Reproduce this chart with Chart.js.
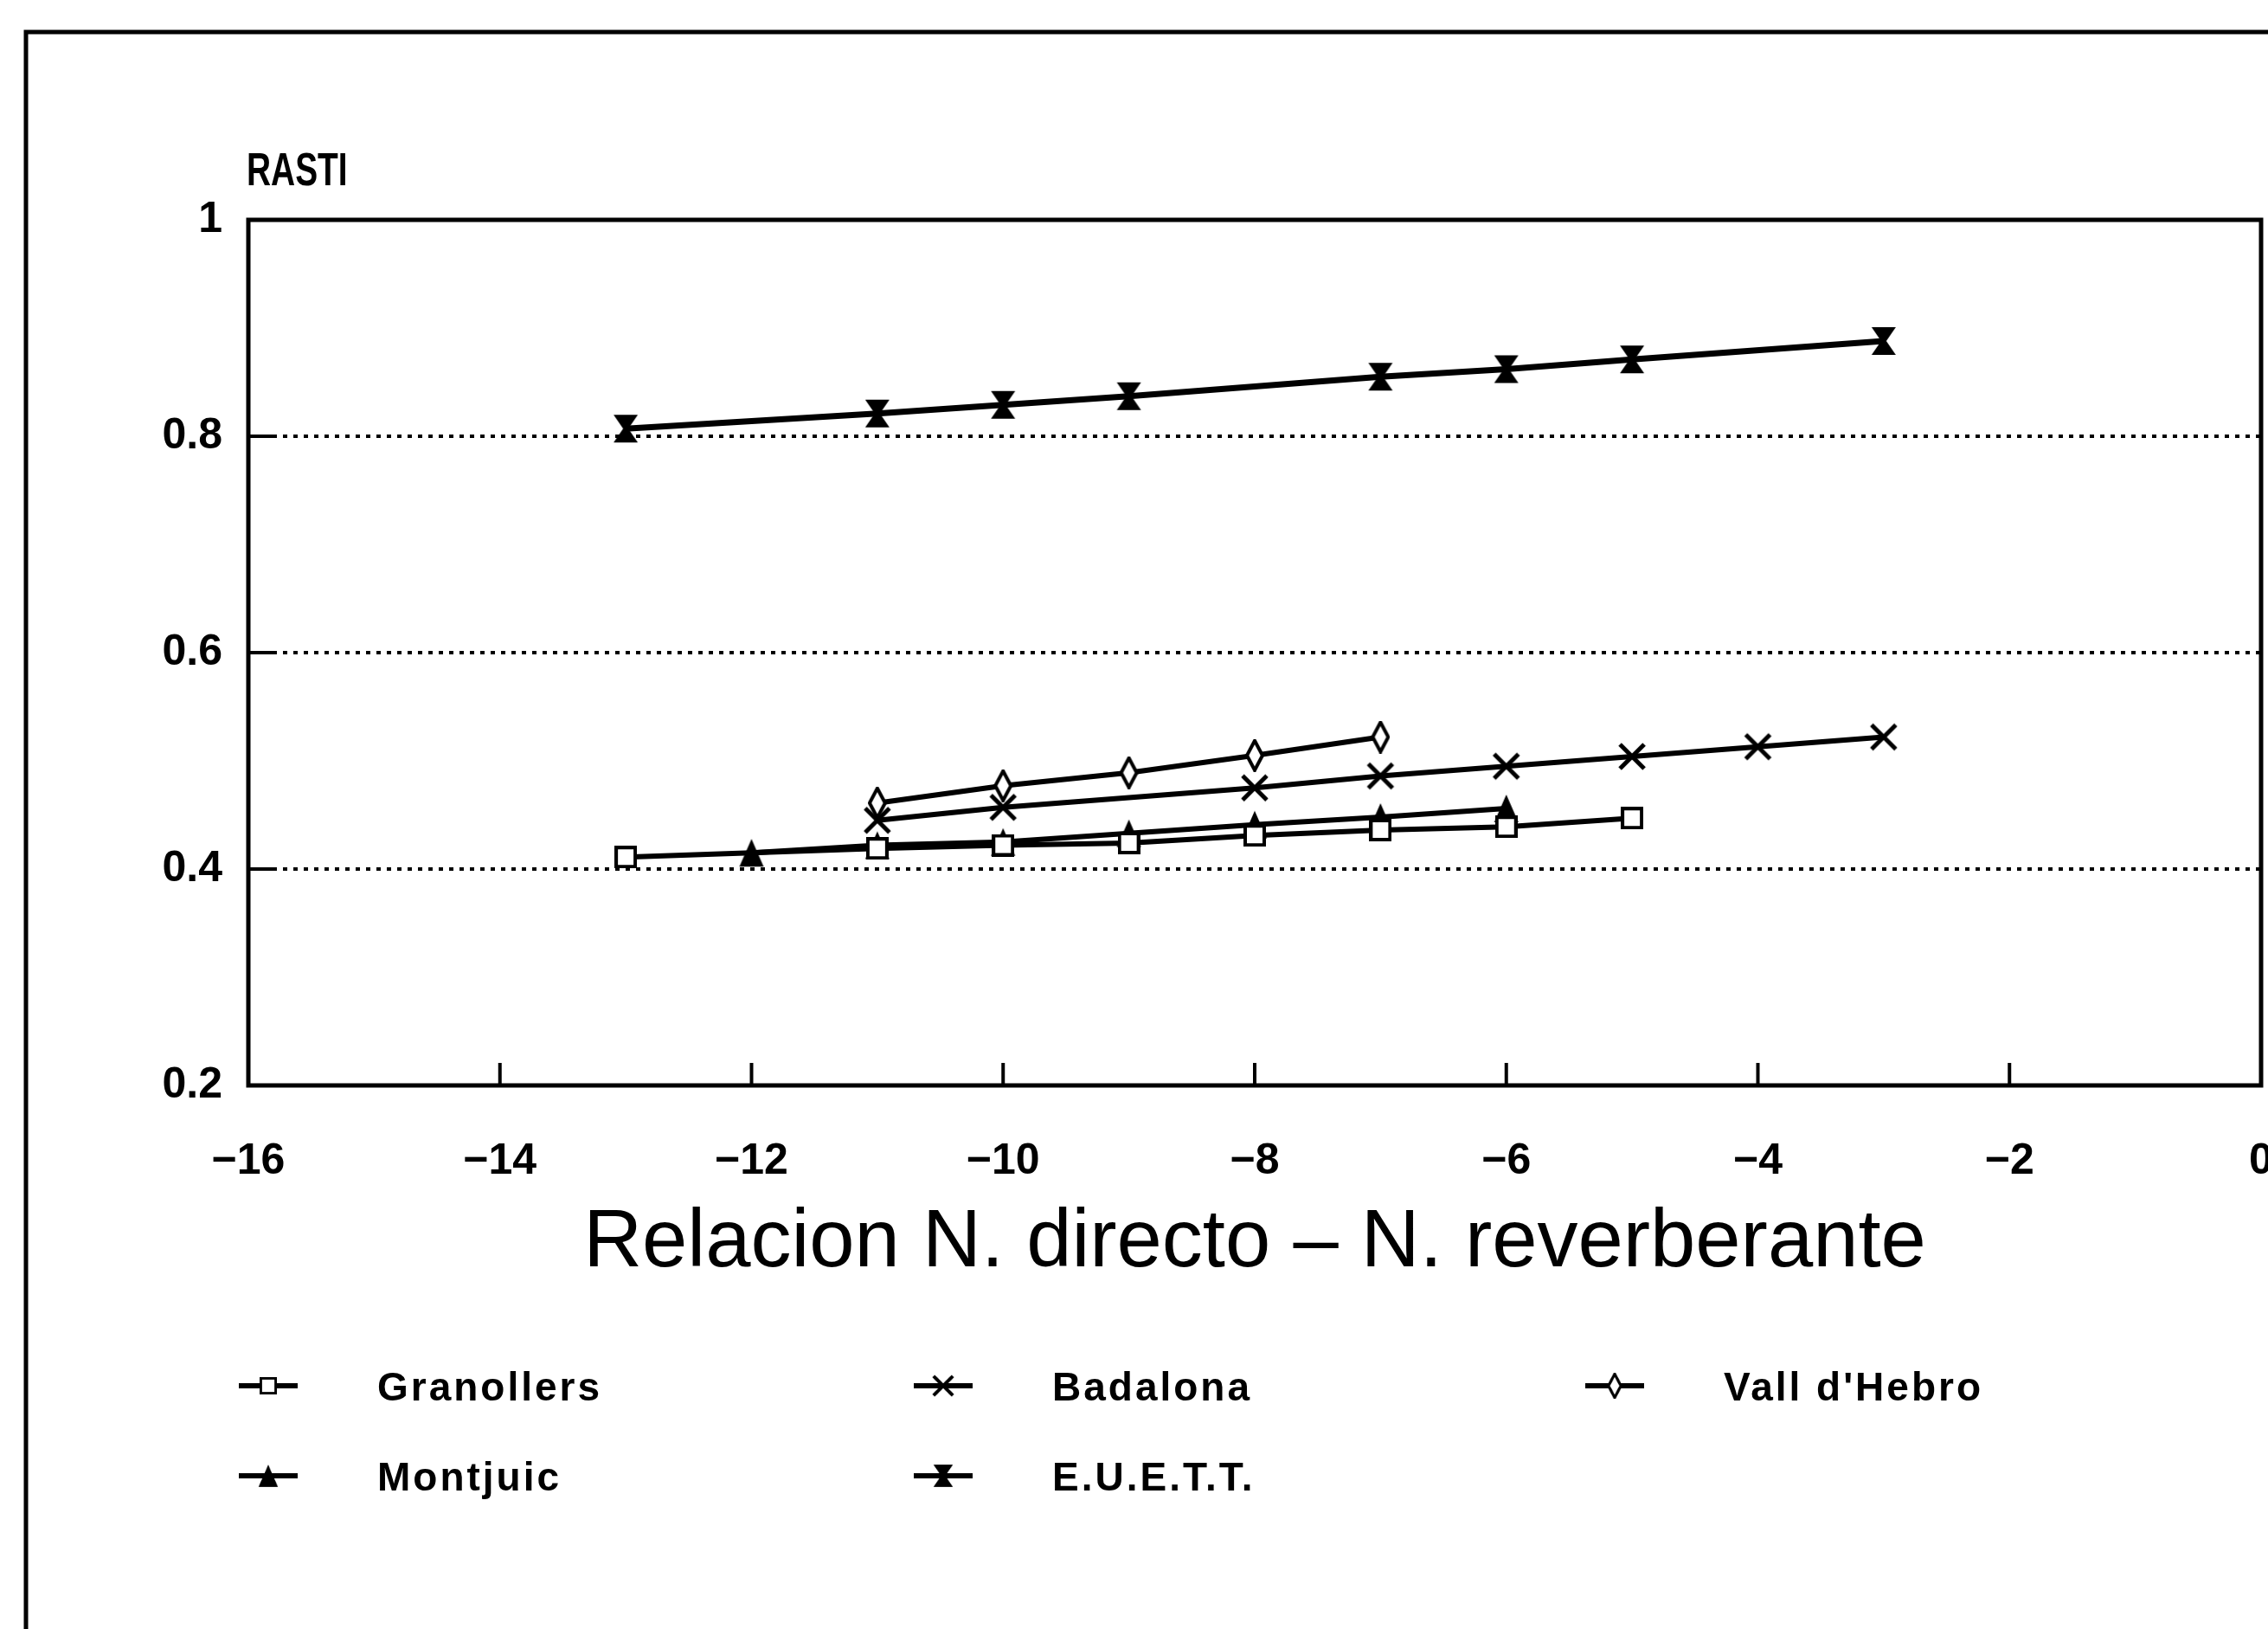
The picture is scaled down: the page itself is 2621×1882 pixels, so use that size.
<!DOCTYPE html>
<html>
<head>
<meta charset="utf-8">
<script src="https://cdn.jsdelivr.net/npm/chart.js@4.4.0/dist/chart.umd.min.js"></script>
<style>
  html, body { margin: 0; padding: 0; background: #fff; }
  #wrap { width: 2621px; height: 1882px; }
</style>
</head>
<body>
<div id="wrap"><canvas id="chart" width="2621" height="1882"></canvas></div>
<script>
// values
const seriesNames = ["Granollers", "Montjuic", "Badalona", "E.U.E.T.T.", "Vall d'Hebro"];
const granollersX = [-13, -11, -10, -9, -8, -7, -6, -5];
const granollersY = [0.411, 0.419, 0.422, 0.424, 0.431, 0.436, 0.439, 0.447];
const montjuicX = [-12, -11, -10, -9, -8, -7, -6];
const montjuicY = [0.415, 0.422, 0.425, 0.433, 0.441, 0.448, 0.456];
const badalonaX = [-11, -10, -8, -7, -6, -5, -4, -3];
const badalonaY = [0.445, 0.457, 0.475, 0.486, 0.495, 0.504, 0.513, 0.522];
const euettX = [-13, -11, -10, -9, -7, -6, -5, -3];
const euettY = [0.807, 0.821, 0.829, 0.837, 0.855, 0.862, 0.871, 0.888];
const vallX = [-11, -10, -9, -8, -7];
const vallY = [0.461, 0.477, 0.489, 0.505, 0.522];

const yTicks = [0.2, 0.4, 0.6, 0.8, 1];
const gridValues = [0.4, 0.6, 0.8];
const xTitle = "Relacion N. directo \u2013 N. reverberante";
const yTitle = "RASTI";

const tickFont = "'Liberation Sans', Arial, sans-serif";

// marker shapes
function marker(w, h, draw) {
  const c = document.createElement('canvas');
  c.width = w; c.height = h;
  const g = c.getContext('2d');
  g.strokeStyle = '#000'; g.fillStyle = '#000'; g.lineWidth = 4;
  draw(g, w, h);
  return c;
}
const squareMark = marker(26, 26, (g, w, h) => {
  g.fillStyle = '#fff'; g.fillRect(2, 2, w - 4, h - 4);
  g.strokeRect(2, 2, w - 4, h - 4);
});
const triangleMark = marker(30, 34, (g, w, h) => {
  g.beginPath(); g.moveTo(w / 2, 1); g.lineTo(w - 1, h - 1); g.lineTo(1, h - 1); g.closePath();
  g.fill();
});
const hourglassMark = marker(30, 34, (g, w, h) => {
  g.beginPath();
  g.moveTo(1, 1); g.lineTo(w - 1, 1); g.lineTo(w / 2 + 3, h / 2); g.lineTo(w - 1, h - 1);
  g.lineTo(1, h - 1); g.lineTo(w / 2 - 3, h / 2); g.closePath();
  g.fill();
});
const diamondMark = marker(22, 38, (g, w, h) => {
  g.beginPath(); g.moveTo(w / 2, 2); g.lineTo(w - 2, h / 2); g.lineTo(w / 2, h - 2); g.lineTo(2, h / 2); g.closePath();
  g.fillStyle = '#fff'; g.fill(); g.stroke();
});
const crossMark = marker(34, 34, (g, w, h) => {
  g.lineWidth = 5;
  g.beginPath(); g.moveTo(3, 3); g.lineTo(w - 3, h - 3); g.moveTo(w - 3, 3); g.lineTo(3, h - 3); g.stroke();
});

const xs = [granollersX, montjuicX, badalonaX, euettX, vallX];
const ys = [granollersY, montjuicY, badalonaY, euettY, vallY];
const marks = [squareMark, triangleMark, crossMark, hourglassMark, diamondMark];
const widths = [6, 6, 6, 7, 6];

const datasets = seriesNames.map((name, i) => ({
  label: name,
  data: xs[i].map((x, j) => ({ x: x, y: ys[i][j] })),
  borderColor: '#000',
  backgroundColor: '#000',
  borderWidth: widths[i],
  pointStyle: marks[i],
  pointRadius: 14,
  tension: 0
}));

function condensedText(ctx, text, x, y, sx) {
  ctx.save();
  ctx.translate(x, y);
  ctx.scale(sx, 1);
  ctx.fillText(text, 0, 0);
  ctx.restore();
}

function noPad(s) {
  s.paddingLeft = 0; s.paddingRight = 0; s.paddingTop = 0; s.paddingBottom = 0;
}

const decor = {
  id: 'decor',
  beforeDraw(chart) {
    const ctx = chart.ctx;
    ctx.save();
    ctx.fillStyle = '#fff';
    ctx.fillRect(0, 0, chart.width, chart.height);
    // outer frame
    ctx.strokeStyle = '#000'; ctx.lineWidth = 5;
    ctx.beginPath(); ctx.moveTo(30, chart.height + 5); ctx.lineTo(30, 37); ctx.lineTo(chart.width + 5, 37); ctx.stroke();
    ctx.restore();
  },
  beforeDatasetsDraw(chart) {
    const { ctx, chartArea: a, scales: { x, y } } = chart;
    ctx.save();
    ctx.strokeStyle = '#000';
    // dotted grid
    ctx.lineWidth = 4;
    gridValues.forEach(v => {
      const py = y.getPixelForValue(v);
      ctx.setLineDash([]);
      ctx.beginPath(); ctx.moveTo(a.left, py); ctx.lineTo(a.left + 28, py); ctx.stroke();
      ctx.setLineDash([5, 7]);
      ctx.beginPath(); ctx.moveTo(a.left + 28, py); ctx.lineTo(a.right, py); ctx.stroke();
    });
    ctx.setLineDash([]);
    // plot box
    ctx.lineWidth = 5;
    ctx.strokeRect(a.left, a.top, a.right - a.left, a.bottom - a.top);
    // inner x ticks
    ctx.lineWidth = 4;
    x.ticks.forEach(t => {
      const px = x.getPixelForValue(t.value);
      ctx.beginPath(); ctx.moveTo(px, a.bottom); ctx.lineTo(px, a.bottom - 26); ctx.stroke();
    });
    // y title
    ctx.fillStyle = '#000';
    ctx.font = "bold 54px " + tickFont;
    ctx.textAlign = 'left'; ctx.textBaseline = 'alphabetic';
    condensedText(ctx, yTitle, a.left - 2, a.top - 40, 0.72);
    ctx.restore();
  },
  afterDraw(chart) {
    const ctx = chart.ctx;
    const colX = [276, 1056, 1832];
    const rowY = [1601, 1705];
    ctx.save();
    ctx.fillStyle = '#000'; ctx.strokeStyle = '#000';
    ctx.font = "bold 46px " + tickFont;
    ctx.letterSpacing = '3px';
    ctx.textBaseline = 'middle'; ctx.textAlign = 'left';
    chart.data.datasets.forEach((ds, i) => {
      const lx = colX[Math.floor(i / 2)];
      const ly = rowY[i % 2];
      ctx.lineWidth = 6;
      ctx.beginPath(); ctx.moveTo(lx, ly); ctx.lineTo(lx + 68, ly); ctx.stroke();
      const m = ds.pointStyle;
      const mw = m.width * 0.8, mh = m.height * 0.8;
      ctx.drawImage(m, lx + 34 - mw / 2, ly - mh / 2, mw, mh);
      ctx.fillText(ds.label, lx + 160, ly + 4);
    });
    ctx.restore();
  }
};

new Chart(document.getElementById('chart'), {
  type: 'line',
  data: { datasets: datasets },
  options: {
    responsive: false,
    animation: false,
    events: [],
    layout: { autoPadding: false, padding: { top: 254, right: 8, bottom: 378, left: 0 } },
    plugins: { legend: { display: false }, tooltip: { enabled: false } },
    scales: {
      x: {
        type: 'linear',
        min: -16, max: 0,
        grid: { display: false, drawTicks: false },
        border: { display: false },
        ticks: {
          stepSize: 2,
          padding: 58,
          color: '#000',
          font: { family: tickFont, size: 50, weight: 'bold' },
          callback: v => (v < 0 ? '\u2212' + Math.abs(v) : String(v))
        },
        title: {
          display: true,
          text: xTitle,
          color: '#000',
          font: { family: "'Liberation Sans', sans-serif", size: 94 },
          padding: { top: 0, bottom: 11 }
        },
        afterFit(s) { s.height = 250; noPad(s); }
      },
      y: {
        type: 'linear',
        min: 0.2, max: 1,
        grid: { display: false, drawTicks: false },
        border: { display: false },
        afterBuildTicks(s) { s.ticks = yTicks.map(v => ({ value: v })); },
        ticks: {
          padding: 30,
          color: '#000',
          font: { family: tickFont, size: 50, weight: 'bold' },
          callback: v => String(Math.round(v * 10) / 10)
        },
        afterFit(s) { s.width = 287; noPad(s); }
      }
    }
  },
  plugins: [decor]
});
</script>
</body>
</html>
